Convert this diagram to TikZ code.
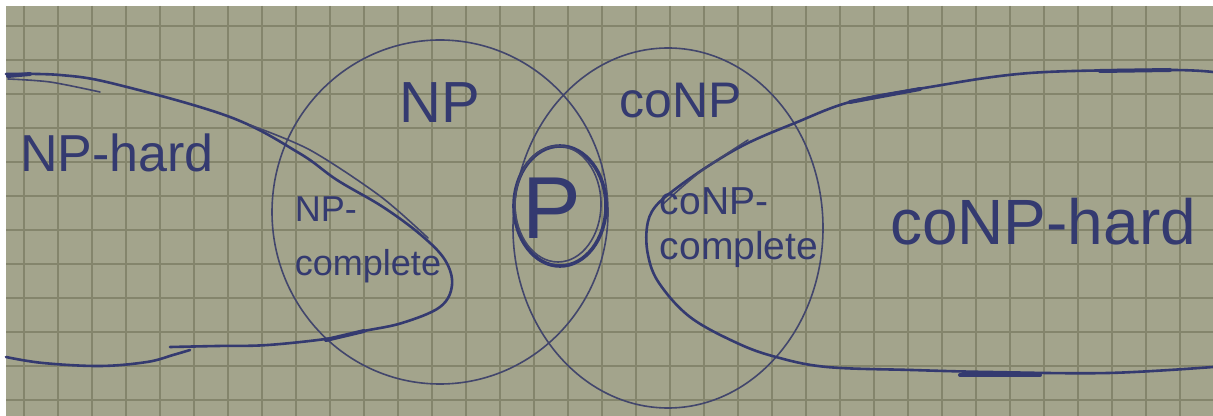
\documentclass[tikz,border=0pt]{standalone}
\usepackage{fontspec}
\setmainfont{Liberation Sans}
\definecolor{paper}{RGB}{163,164,140}
\definecolor{gridc}{RGB}{132,133,108}
\definecolor{ink}{RGB}{52,58,112}
\definecolor{inkthin}{RGB}{66,70,108}
\begin{document}
\begin{tikzpicture}[x=0.5pt,y=-0.5pt,
  gridline/.style={gridc, line width=0.7pt},
  stroke/.style={ink, line width=1.3pt, line cap=round, line join=round},
  thinstroke/.style={inkthin, line width=0.8pt, line cap=round},
  heavy/.style={ink, line width=2pt, line cap=round},
  lbl/.style={text=ink, inner sep=0pt}]
\useasboundingbox (0,0) rectangle (1213,416);
\fill[white] (0,0) rectangle (1213,416);
\fill[paper] (6,6) rectangle (1213,416);
\begin{scope}
\clip (6,6) rectangle (1213,416);
\foreach \i in {0,...,35} \draw[gridline] ({24+34*\i},6) -- ({24+34*\i},416);
\foreach \j in {0,...,11} \draw[gridline] (6,{26+34*\j}) -- (1213,{26+34*\j});
\end{scope}
% NP and coNP
\draw[thinstroke] (440,212) ellipse [x radius=168, y radius=172];
\draw[thinstroke] (668,228) ellipse [x radius=155, y radius=180];
% P
\draw[stroke, line width=1.8pt] (560,206) ellipse [x radius=46, y radius=60];
\draw[thinstroke] (558,204) ellipse [x radius=43, y radius=58];
% NP-hard lobe
\draw[stroke] plot[smooth, tension=0.6] coordinates {(6,74) (60,75) (115,84) (230,117) (299,153) (337,180) (383,207) (421,235) (445,260) (452,285) (440,307) (402,323) (364,331) (333,338) (268,345) (217,346) (170,347)};
\draw[stroke] plot[smooth, tension=0.6] coordinates {(6,357) (43,363) (100,366) (147,362) (173,355) (190,350)};
\draw[thinstroke] plot[smooth] coordinates {(8,79) (50,82) (100,92)};
\draw[thinstroke] plot[smooth] coordinates {(250,125) (310,150) (380,196) (428,238)};
\draw[heavy] (326,340) -- (364,331);
\draw[heavy] (8,76) -- (30,74);
% coNP-hard lobe
\draw[stroke] plot[smooth, tension=0.6] coordinates {(1213,72) (1166,70) (1030,73) (924,88) (850,102) (795,123) (748,143) (713,163) (678,187) (655,207) (647,227) (648,255) (659,283) (690,317) (737,343) (776,357) (827,367) (912,370) (990,372) (1108,373) (1213,367)};
\draw[heavy] (850,102) -- (920,89);
\draw[heavy] (1100,71) -- (1170,70);
\draw[heavy] (960,375) -- (1040,375);
\draw[thinstroke] plot[smooth] coordinates {(748,140) (700,172) (662,205)};
% labels
\node[lbl, font=\fontsize{26}{30}\selectfont] (nphard) at (117,153) {NP-hard};
\node[lbl, font=\fontsize{29}{32}\selectfont] (np) at (440,103) {NP};
\node[lbl, font=\fontsize{25}{30}\selectfont] (conp) at (681,101) {coNP};
\node[lbl, font=\fontsize{44}{48}\selectfont] (p) at (552,208) {P};
\node[lbl, align=left, font=\fontsize{18}{27}\selectfont] (npc) at (368,240) {NP-\\complete};
\node[lbl, align=left, font=\fontsize{19.5}{22.5}\selectfont] (conpc) at (739,228) {coNP-\\complete};
\node[lbl, font=\fontsize{32}{36}\selectfont] (conphard) at (1043,222) {coNP-hard};
\end{tikzpicture}
\end{document}
